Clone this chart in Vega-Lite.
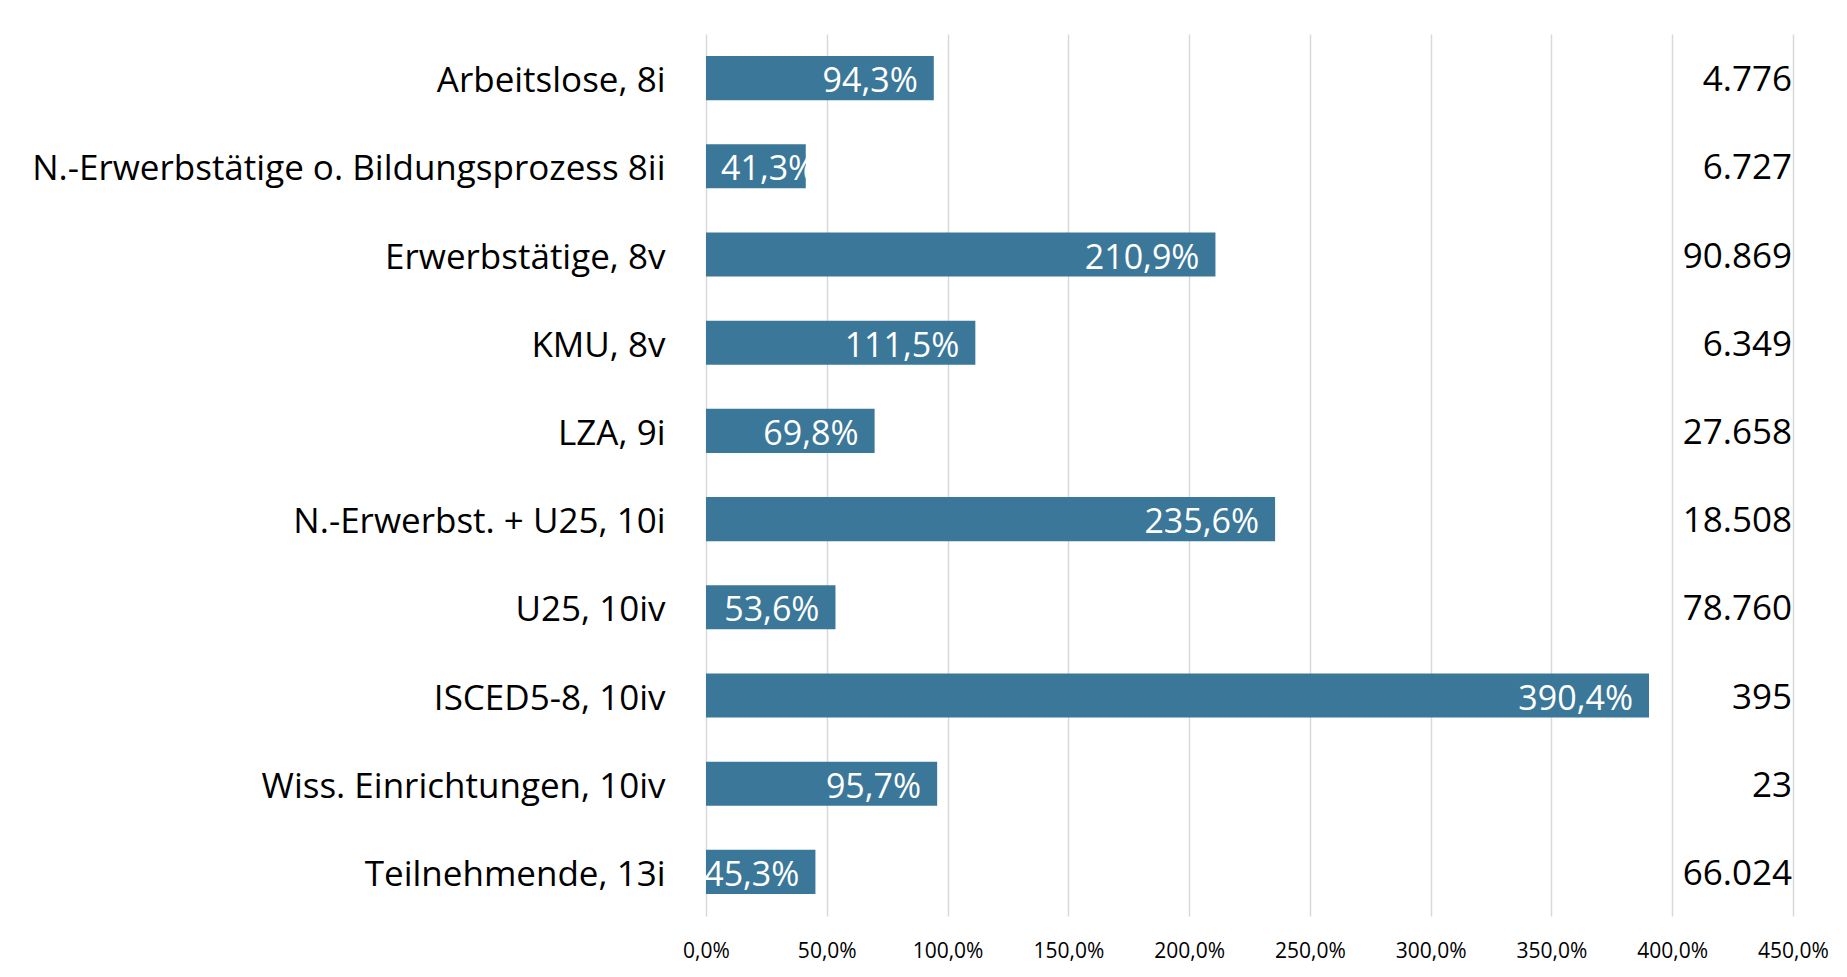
{
  "$schema": "https://vega.github.io/schema/vega-lite/v6.json",
  "width": 1087,
  "height": 882,
  "autosize": {"type": "none"},
  "padding": {"left": 706, "top": 34, "right": 54, "bottom": 61},
  "background": "white",
  "config": {
    "locale": {"number": {"decimal": ",", "thousands": ".", "grouping": [3], "currency": ["", " €"]}},
    "view": {"stroke": null},
    "font": "Open Sans"
  },
  "data": {
    "values": [
      {"cat": "Arbeitslose, 8i", "pct": 0.943, "n": 4776},
      {"cat": "N.-Erwerbstätige o. Bildungsprozess 8ii", "pct": 0.413, "n": 6727},
      {"cat": "Erwerbstätige, 8v", "pct": 2.109, "n": 90869},
      {"cat": "KMU, 8v", "pct": 1.115, "n": 6349},
      {"cat": "LZA, 9i", "pct": 0.698, "n": 27658},
      {"cat": "N.-Erwerbst. + U25, 10i", "pct": 2.356, "n": 18508},
      {"cat": "U25, 10iv", "pct": 0.536, "n": 78760},
      {"cat": "ISCED5-8, 10iv", "pct": 3.904, "n": 395},
      {"cat": "Wiss. Einrichtungen, 10iv", "pct": 0.957, "n": 23},
      {"cat": "Teilnehmende, 13i", "pct": 0.453, "n": 66024}
    ]
  },
  "encoding": {
    "y": {
      "field": "cat",
      "type": "nominal",
      "sort": null,
      "scale": {"paddingInner": 0.5, "paddingOuter": 0.25},
      "axis": {
        "title": null,
        "ticks": false,
        "domain": false,
        "labelFontSize": 35,
        "labelColor": "#000000",
        "labelPadding": 41,
        "labelOffset": 3,
        "labelLimit": 900
      }
    }
  },
  "layer": [
    {
      "mark": {"type": "bar", "color": "#3B7799"},
      "encoding": {
        "x": {
          "field": "pct",
          "type": "quantitative",
          "scale": {"domain": [0, 4.5], "nice": false},
          "axis": {
            "title": null,
            "format": ".1%",
            "values": [0, 0.5, 1, 1.5, 2, 2.5, 3, 3.5, 4, 4.5],
            "grid": true,
            "gridColor": "#D9D9D9",
            "gridWidth": 1.5,
            "ticks": false,
            "domain": false,
            "labelFlush": false,
            "labelFontSize": 21,
            "labelColor": "#000000",
            "labelPadding": 24
          }
        }
      }
    },
    {
      "transform": [{"filter": "datum.pct >= 0.45"}],
      "mark": {"type": "text", "align": "right", "baseline": "middle", "dx": -16, "dy": 4, "fontSize": 34, "color": "#FFFFFF"},
      "encoding": {
        "x": {"field": "pct", "type": "quantitative"},
        "text": {"field": "pct", "type": "quantitative", "format": ".1%"}
      }
    },
    {
      "transform": [{"filter": "datum.pct < 0.45"}],
      "mark": {"type": "text", "align": "left", "baseline": "middle", "dx": 15, "dy": 4, "fontSize": 34, "color": "#FFFFFF"},
      "encoding": {
        "x": {"datum": 0, "type": "quantitative"},
        "text": {"field": "pct", "type": "quantitative", "format": ".1%"}
      }
    },
    {
      "mark": {"type": "text", "align": "right", "baseline": "middle", "dx": -1, "dy": 2, "fontSize": 35, "color": "#000000"},
      "encoding": {
        "x": {"datum": 4.5, "type": "quantitative"},
        "text": {"field": "n", "type": "quantitative", "format": ",d"}
      }
    }
  ]
}
